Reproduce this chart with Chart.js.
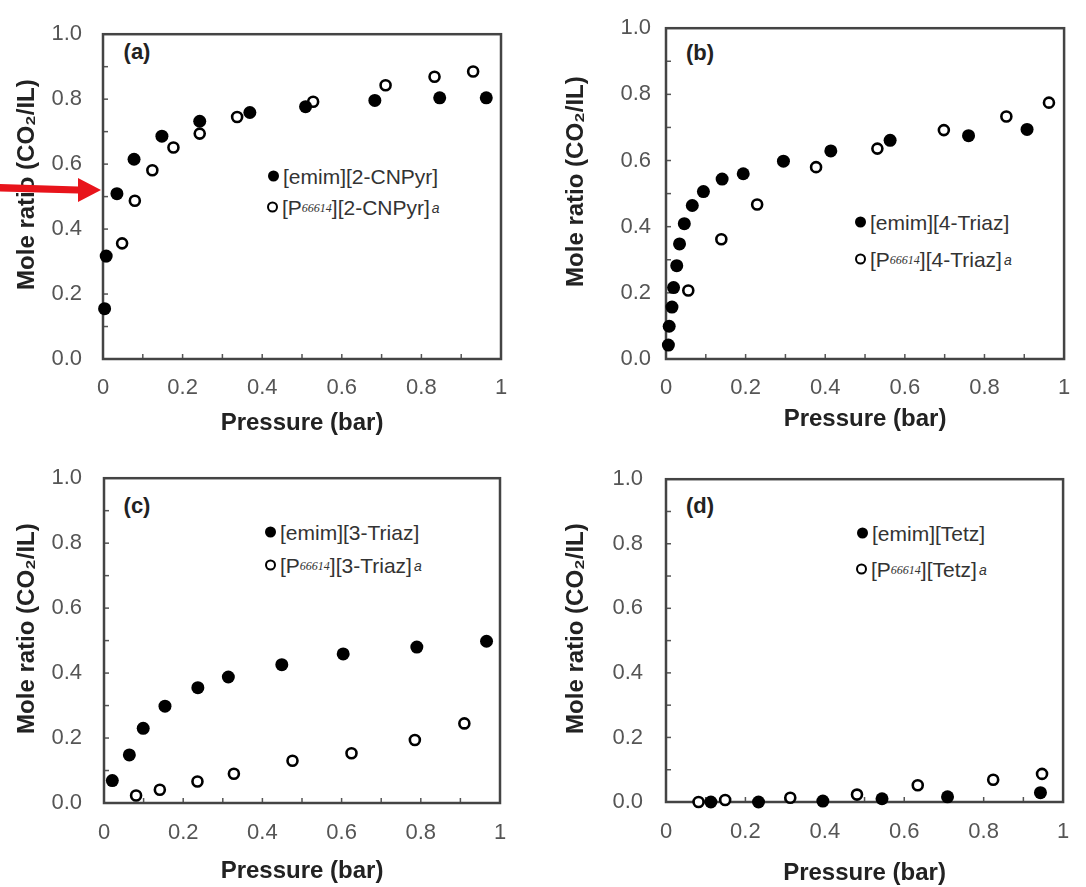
<!DOCTYPE html>
<html lang="en">
<head>
<meta charset="UTF-8">
<title>CO2 absorption isotherms</title>
<script src="https://cdn.jsdelivr.net/npm/chart.js"></script>
<style>
    body {
        margin: 0;
        background: #fff;
        width: 1086px;
        height: 887px;
        position: relative;
        overflow: hidden;
        font-family: 'Liberation Sans', Arial, sans-serif;
    }
    .panel { position: absolute; }
    .lab {
        position: absolute;
        font-weight: bold;
        font-size: 22px;
        color: #222;
        transform: translate(-50%, -50%);
    }
    .leg {
        position: absolute;
        font-size: 21px;
        color: #333;
        display: flex;
        align-items: center;
        white-space: nowrap;
        transform: translateY(-50%);
        line-height: 1;
    }
    .dot {
        display: inline-block;
        width: 11px;
        height: 11px;
        border-radius: 50%;
        box-sizing: border-box;
        margin-right: 4px;
    }
    .dot.f { background: #000; }
    .dot.o { background: #fff; border: 2.5px solid #000; }
    .leg sub {
        font-family: 'Liberation Serif', serif;
        font-style: italic;
        font-size: 12px;
        color: #333;
        vertical-align: -4px;
    }
    .leg i { font-size: 14px; margin-left: 2px; color: #333; }
</style>
</head>
<body>

<!-- panel labels -->
<div class="lab" style="left:137px;top:52px">(a)</div>
<div class="lab" style="left:700px;top:53px">(b)</div>
<div class="lab" style="left:137px;top:506px">(c)</div>
<div class="lab" style="left:700px;top:506px">(d)</div>

<!-- legends -->
<div class="leg" style="left:268px;top:176px"><span class="dot f"></span>[emim][2-CNPyr]</div>
<div class="leg" style="left:267px;top:207px"><span class="dot o"></span>[P<sub>66614</sub>][2-CNPyr]<i>a</i></div>
<div class="leg" style="left:855px;top:222px"><span class="dot f"></span>[emim][4-Triaz]</div>
<div class="leg" style="left:855px;top:259px"><span class="dot o"></span>[P<sub>66614</sub>][4-Triaz]<i>a</i></div>
<div class="leg" style="left:265px;top:532px"><span class="dot f"></span>[emim][3-Triaz]</div>
<div class="leg" style="left:265px;top:565px"><span class="dot o"></span>[P<sub>66614</sub>][3-Triaz]<i>a</i></div>
<div class="leg" style="left:857px;top:533px"><span class="dot f"></span>[emim][Tetz]</div>
<div class="leg" style="left:856px;top:569px"><span class="dot o"></span>[P<sub>66614</sub>][Tetz]<i>a</i></div>

<script>
// (a) 2-CNPyr
const aEmimP = [0.004, 0.008, 0.035, 0.078, 0.148, 0.243, 0.369, 0.509, 0.683, 0.846, 0.963];
const aEmimR = [0.155, 0.317, 0.509, 0.615, 0.686, 0.732, 0.759, 0.777, 0.796, 0.804, 0.804];
const aPhosP = [0.048, 0.080, 0.124, 0.177, 0.243, 0.337, 0.528, 0.710, 0.833, 0.930];
const aPhosR = [0.356, 0.487, 0.581, 0.651, 0.694, 0.745, 0.792, 0.843, 0.869, 0.885];

// (b) 4-Triaz
const bEmimP = [0.006, 0.008, 0.015, 0.019, 0.027, 0.034, 0.046, 0.066, 0.094, 0.141, 0.194, 0.295, 0.414, 0.563, 0.760, 0.907];
const bEmimR = [0.042, 0.099, 0.157, 0.216, 0.282, 0.348, 0.409, 0.464, 0.506, 0.544, 0.560, 0.598, 0.629, 0.661, 0.675, 0.694];
const bPhosP = [0.056, 0.139, 0.229, 0.377, 0.531, 0.698, 0.855, 0.962];
const bPhosR = [0.207, 0.362, 0.467, 0.580, 0.636, 0.692, 0.733, 0.775];

// (c) 3-Triaz
const cEmimP = [0.021, 0.064, 0.099, 0.154, 0.237, 0.314, 0.449, 0.604, 0.790, 0.966];
const cEmimR = [0.069, 0.148, 0.230, 0.298, 0.355, 0.388, 0.426, 0.459, 0.480, 0.498];
const cPhosP = [0.081, 0.141, 0.236, 0.328, 0.476, 0.625, 0.785, 0.910];
const cPhosR = [0.023, 0.041, 0.066, 0.090, 0.130, 0.153, 0.194, 0.245];

// (d) Tetz
const dEmimP = [0.113, 0.233, 0.395, 0.544, 0.709, 0.943];
const dEmimR = [0.000, 0.000, 0.003, 0.010, 0.016, 0.029];
const dPhosP = [0.082, 0.149, 0.313, 0.481, 0.634, 0.824, 0.947];
const dPhosR = [0.000, 0.006, 0.013, 0.023, 0.052, 0.069, 0.087];

const xTitle = 'Pressure (bar)';
// leading en-spaces nudge the rotated title a little upward, like the original
const yTitle = '\u2002\u2002Mole ratio (CO\u2082/IL)';
const arrowAt = 0.52; // mole ratio the red arrow points to in (a)

const FONT = "'Liberation Sans', Arial, sans-serif";
const TICK_SIZE = 22, TITLE_SIZE = 24;

// panel boxes (canvas position + plot area inside canvas)
const panels = [
    {px: aEmimP, py: aEmimR, ox: aPhosP, oy: aPhosR, left: 0, top: 0, w: 543, h: 443,
     L: 103, T: 20, R: 501, B: 359, yTitleX: 27, yGap: 21, xLabOff: 29, xTitleY: 423, arrow: true},
    {px: bEmimP, py: bEmimR, ox: bPhosP, oy: bPhosR, left: 543, top: 0, w: 543, h: 443,
     L: 123, T: 17, R: 522, B: 359, yTitleX: 33, yGap: 15, xLabOff: 29, xTitleY: 419},
    {px: cEmimP, py: cEmimR, ox: cPhosP, oy: cPhosR, left: 0, top: 443, w: 543, h: 444,
     L: 104, T: 33, R: 500, B: 360, yTitleX: 27, yGap: 22, xLabOff: 30, xTitleY: 428},
    {px: dEmimP, py: dEmimR, ox: dPhosP, oy: dPhosR, left: 543, top: 443, w: 543, h: 444,
     L: 123, T: 32, R: 521, B: 359, yTitleX: 33, yGap: 23, xLabOff: 30, xTitleY: 430}
];

function pts(xs, ys) {
    return xs.map((x, i) => ({x: x, y: ys[i]}));
}

// frame + inward minor ticks every 0.1
const framePlugin = {
    id: 'frame',
    beforeDatasetsDraw(chart) {
        const {ctx, chartArea: a, scales} = chart;
        ctx.save();
        ctx.strokeStyle = '#555';
        ctx.lineWidth = 1.5;
        for (let i = 1; i < 10; i++) {
            const xp = scales.x.getPixelForValue(i / 10);
            ctx.beginPath();
            ctx.moveTo(xp, a.bottom);
            ctx.lineTo(xp, a.bottom - 5);
            ctx.stroke();
            const yp = scales.y.getPixelForValue(i / 10);
            ctx.beginPath();
            ctx.moveTo(a.left, yp);
            ctx.lineTo(a.left + 5, yp);
            ctx.stroke();
        }
        ctx.strokeStyle = '#444';
        ctx.lineWidth = 2.5;
        ctx.strokeRect(a.left, a.top, a.right - a.left, a.bottom - a.top);
        ctx.restore();
    }
};

const arrowPlugin = {
    id: 'arrow',
    afterDraw(chart, args, opts) {
        if (!opts.show) return;
        const {ctx, chartArea: a, scales} = chart;
        const yTip = scales.y.getPixelForValue(arrowAt);
        const tipX = a.left - 2;
        ctx.save();
        ctx.fillStyle = '#e8141b';
        ctx.beginPath();
        ctx.moveTo(0, yTip - 6);
        ctx.lineTo(tipX - 23, yTip - 3.5);
        ctx.lineTo(tipX - 23, yTip - 12);
        ctx.lineTo(tipX, yTip);
        ctx.lineTo(tipX - 23, yTip + 12);
        ctx.lineTo(tipX - 23, yTip + 3.5);
        ctx.lineTo(0, yTip + 1.5);
        ctx.closePath();
        ctx.fill();
        ctx.restore();
    }
};

function tenths(v) { return Math.round(v * 10); }

panels.forEach(p => {
    const div = document.createElement('div');
    div.className = 'panel';
    div.style.left = p.left + 'px';
    div.style.top = p.top + 'px';
    const canvas = document.createElement('canvas');
    canvas.width = p.w;
    canvas.height = p.h;
    div.appendChild(canvas);
    document.body.appendChild(div);

    const tickLH = TICK_SIZE * 1.2, titleLH = TITLE_SIZE * 1.2;

    new Chart(canvas, {
        type: 'scatter',
        data: {
            datasets: [
                {
                    data: pts(p.px, p.py),
                    pointRadius: 6.5,
                    pointBackgroundColor: '#000',
                    pointBorderColor: '#000',
                    pointBorderWidth: 0,
                    clip: false
                },
                {
                    data: pts(p.ox, p.oy),
                    pointRadius: 5,
                    pointBackgroundColor: '#fff',
                    pointBorderColor: '#000',
                    pointBorderWidth: 2.6,
                    clip: false
                }
            ]
        },
        options: {
            responsive: false,
            animation: false,
            events: [],
            layout: {padding: {left: 0, top: p.T, right: p.w - p.R, bottom: 0}},
            plugins: {
                legend: {display: false},
                tooltip: {enabled: false},
                arrow: {show: !!p.arrow}
            },
            scales: {
                x: {
                    type: 'linear',
                    min: 0, max: 1,
                    afterFit(s) { s.height = p.h - p.B; },
                    grid: {drawOnChartArea: false, drawTicks: false},
                    border: {display: false},
                    ticks: {
                        stepSize: 0.1,
                        autoSkip: false,
                        maxRotation: 0,
                        padding: p.xLabOff - tickLH / 2,
                        color: '#555',
                        font: {family: FONT, size: TICK_SIZE},
                        callback: v => {
                            const t = tenths(v);
                            if (t % 2) return '';
                            if (t === 0) return '0';
                            if (t === 10) return '1';
                            return (t / 10).toFixed(1);
                        }
                    },
                    title: {
                        display: true,
                        text: xTitle,
                        color: '#222',
                        font: {family: FONT, size: TITLE_SIZE, weight: 'bold'},
                        padding: {top: 0, bottom: (p.h - p.xTitleY) - titleLH / 2}
                    }
                },
                y: {
                    type: 'linear',
                    min: 0, max: 1,
                    afterFit(s) { s.width = p.L; },
                    grid: {drawOnChartArea: false, drawTicks: false},
                    border: {display: false},
                    ticks: {
                        stepSize: 0.1,
                        autoSkip: false,
                        padding: p.yGap,
                        color: '#555',
                        font: {family: FONT, size: TICK_SIZE},
                        callback: v => {
                            const t = tenths(v);
                            return t % 2 ? '' : (t / 10).toFixed(1);
                        }
                    },
                    title: {
                        display: true,
                        text: yTitle,
                        color: '#222',
                        font: {family: FONT, size: TITLE_SIZE, weight: 'bold'},
                        padding: {top: p.yTitleX - titleLH / 2, bottom: 0}
                    }
                }
            }
        },
        plugins: [framePlugin, arrowPlugin]
    });
});
</script>
</body>
</html>
